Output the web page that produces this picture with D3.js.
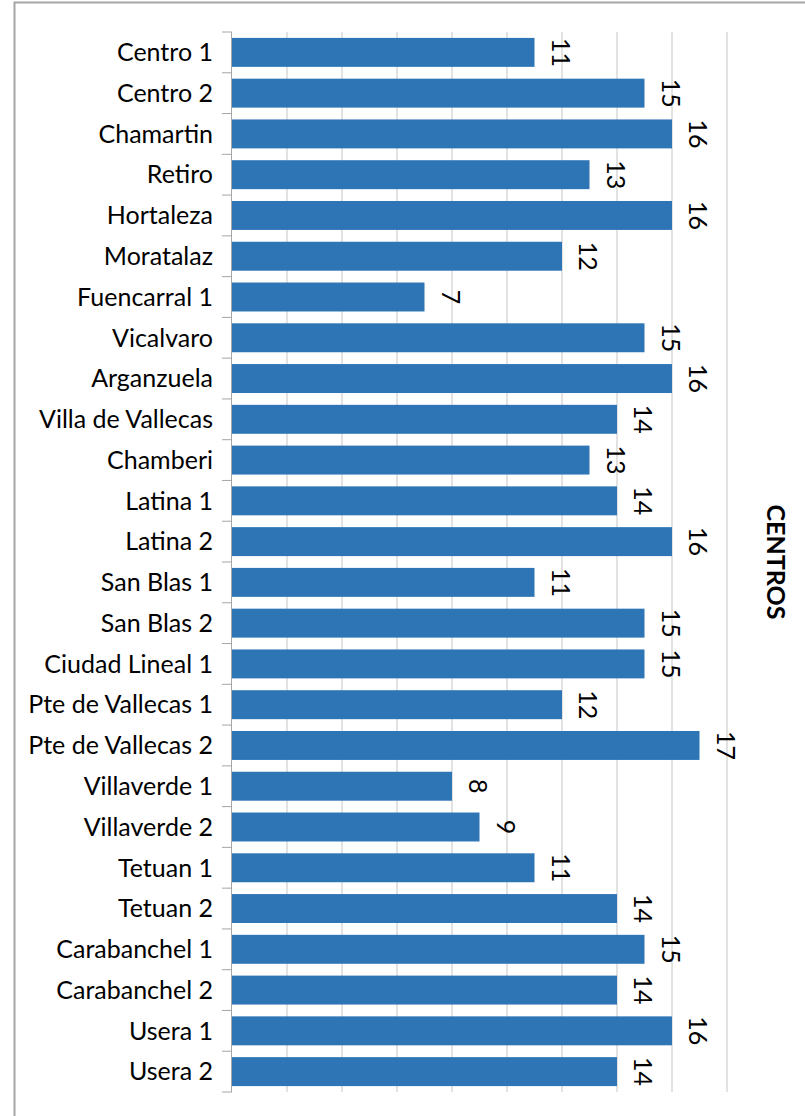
<!DOCTYPE html>
<html>
<head>
<meta charset="utf-8">
<script src="https://cdn.jsdelivr.net/npm/d3@7"></script>
<style>
  html, body { margin: 0; padding: 0; background: #fff; }
  svg { display: block; }
</style>
</head>
<body>
<svg id="chart" width="805" height="1116"></svg>
<script>
const categories = ["Centro 1","Centro 2","Chamartin","Retiro","Hortaleza","Moratalaz","Fuencarral 1","Vicalvaro","Arganzuela","Villa de Vallecas","Chamberi","Latina 1","Latina 2","San Blas 1","San Blas 2","Ciudad Lineal 1","Pte de Vallecas 1","Pte de Vallecas 2","Villaverde 1","Villaverde 2","Tetuan 1","Tetuan 2","Carabanchel 1","Carabanchel 2","Usera 1","Usera 2"];
const values = [11,15,16,13,16,12,7,15,16,14,13,14,16,11,15,15,12,17,8,9,11,14,15,14,16,14];
const gridTicks = [2,4,6,8,10,12,14,16,18];
const axisTitle = "CENTROS";

const svg = d3.select("#chart");
const font = "Lato, 'Open Sans', sans-serif";

// outer frame
svg.append("rect").attr("x", 14.5).attr("y", 2.5).attr("width", 820).attr("height", 1130)
  .attr("fill", "none").attr("stroke", "#a6a6a6").attr("stroke-width", 2);

const x = d3.scaleLinear().domain([0, 18]).range([232, 727]);
const y = d3.scaleBand().domain(categories).range([32, 1092]).paddingInner(0.29).paddingOuter(0.145);

// gridlines
svg.append("g").selectAll("line").data(gridTicks).join("line")
  .attr("x1", d => x(d)).attr("x2", d => x(d))
  .attr("y1", 32).attr("y2", 1092)
  .attr("stroke", "#d9d9d9").attr("stroke-width", 1.5);

// bars
svg.append("g").selectAll("rect").data(categories).join("rect")
  .attr("x", x(0))
  .attr("y", d => y(d))
  .attr("width", (d, i) => x(values[i]) - x(0))
  .attr("height", y.bandwidth())
  .attr("fill", "#2e75b6");

// left axis with ticks at band boundaries
const step = y.step();
const start = 32;
const gAxis = svg.append("g");
gAxis.append("line").attr("x1", 231.5).attr("x2", 231.5).attr("y1", 32).attr("y2", 1092)
  .attr("stroke", "#a6a6a6").attr("stroke-width", 1);
gAxis.selectAll("line.tk").data(d3.range(categories.length + 1)).join("line")
  .attr("class", "tk")
  .attr("x1", 222).attr("x2", 232)
  .attr("y1", i => start + i * step).attr("y2", i => start + i * step)
  .attr("stroke", "#a6a6a6").attr("stroke-width", 1);

// category labels
svg.append("g").selectAll("text").data(categories).join("text")
  .attr("x", 213)
  .attr("y", d => y(d) + y.bandwidth() / 2)
  .attr("dy", "0.35em")
  .attr("text-anchor", "end")
  .attr("font-family", font)
  .attr("font-size", 25)
  .attr("fill", "#000")
  .text(d => d);

// value labels rotated
svg.append("g").selectAll("text").data(categories).join("text")
  .attr("transform", (d, i) => `translate(${x(values[i]) + 17},${y(d) + y.bandwidth() / 2}) rotate(90)`)
  .attr("text-anchor", "middle")
  .attr("font-family", font)
  .attr("font-size", 25)
  .attr("fill", "#000")
  .text((d, i) => values[i]);

// axis title
svg.append("text")
  .attr("transform", `translate(767,562) rotate(90)`)
  .attr("text-anchor", "middle")
  .attr("font-family", font)
  .attr("font-size", 25)
  .attr("font-weight", "bold")
  .attr("fill", "#000")
  .text(axisTitle);
</script>
</body>
</html>
